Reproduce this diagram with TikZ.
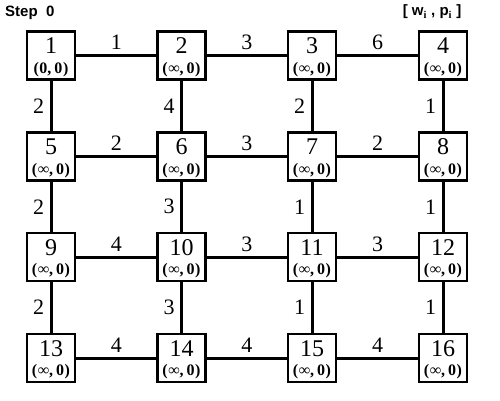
\documentclass[tikz,border=0pt]{standalone}
\usepackage{fontspec}
\setmainfont{Liberation Serif}
\setsansfont{Liberation Sans}
\begin{document}
\begin{tikzpicture}[x=1pt,y=-1pt,
  vbox/.style={draw,line width=2.2pt,minimum width=48pt,minimum height=48pt,inner sep=0pt,fill=white},
  numtxt/.style={font=\fontsize{24}{24}\selectfont,inner sep=0pt,anchor=base},
  wptxt/.style={font=\bfseries\fontsize{16}{16}\selectfont,inner sep=0pt,anchor=base},
  conn/.style={line width=3pt},
  wlab/.style={font=\fontsize{22}{22}\selectfont,inner sep=0pt},
  hdr/.style={font=\sffamily\bfseries\fontsize{15}{15}\selectfont,inner sep=0pt}]
\useasboundingbox (0,0) rectangle (500,400);
\newcommand{\vtx}[4]{%
  \node[vbox] (v#1) at (#2,#3) {};
  \node[numtxt] (n#1) at ([yshift=2pt]v#1.center) {#1};
  \node[wptxt] (w#1) at ([yshift=-17.5pt]v#1.center) {(\kern0.5pt#4,\kern3pt0\kern0.5pt)};}
\def\cA{51}\def\cB{181.5}\def\cC{312}\def\cD{443}
\def\rA{55.5}\def\rB{156.5}\def\rC{257}\def\rD{358}
\coordinate (p1) at (\cA,\rA); \coordinate (p2) at (\cB,\rA); \coordinate (p3) at (\cC,\rA); \coordinate (p4) at (\cD,\rA);
\coordinate (p5) at (\cA,\rB); \coordinate (p6) at (\cB,\rB); \coordinate (p7) at (\cC,\rB); \coordinate (p8) at (\cD,\rB);
\coordinate (p9) at (\cA,\rC); \coordinate (p10) at (\cB,\rC); \coordinate (p11) at (\cC,\rC); \coordinate (p12) at (\cD,\rC);
\coordinate (p13) at (\cA,\rD); \coordinate (p14) at (\cB,\rD); \coordinate (p15) at (\cC,\rD); \coordinate (p16) at (\cD,\rD);
% horizontal connectors
\foreach \a/\b/\w in {1/2/1,2/3/3,3/4/6,5/6/2,6/7/3,7/8/2,9/10/4,10/11/3,11/12/3,13/14/4,14/15/4,15/16/4}
  \draw[conn] (p\a) -- node[wlab,midway,yshift=13pt] {\w} (p\b);
% vertical connectors
\foreach \a/\b/\w in {1/5/2,5/9/2,9/13/2,2/6/4,6/10/3,10/14/3,3/7/2,7/11/1,11/15/1,4/8/1,8/12/1,12/16/1}
  \draw[conn] (p\a) -- node[wlab,midway,xshift=-12.5pt] {\w} (p\b);
\vtx{1}{\cA}{\rA}{0}
\vtx{2}{\cB}{\rA}{∞}
\vtx{3}{\cC}{\rA}{∞}
\vtx{4}{\cD}{\rA}{∞}
\vtx{5}{\cA}{\rB}{∞}
\vtx{6}{\cB}{\rB}{∞}
\vtx{7}{\cC}{\rB}{∞}
\vtx{8}{\cD}{\rB}{∞}
\vtx{9}{\cA}{\rC}{∞}
\vtx{10}{\cB}{\rC}{∞}
\vtx{11}{\cC}{\rC}{∞}
\vtx{12}{\cD}{\rC}{∞}
\vtx{13}{\cA}{\rD}{∞}
\vtx{14}{\cB}{\rD}{∞}
\vtx{15}{\cC}{\rD}{∞}
\vtx{16}{\cD}{\rD}{∞}
\node[hdr,anchor=west] (step) at (5,13) {Step\ \ 0};
\node[hdr] (leg) at (432,12) {[\ w$_{\mathbf{i}}$\ ,\ p$_{\mathbf{i}}$\ ]};
\end{tikzpicture}
\end{document}
